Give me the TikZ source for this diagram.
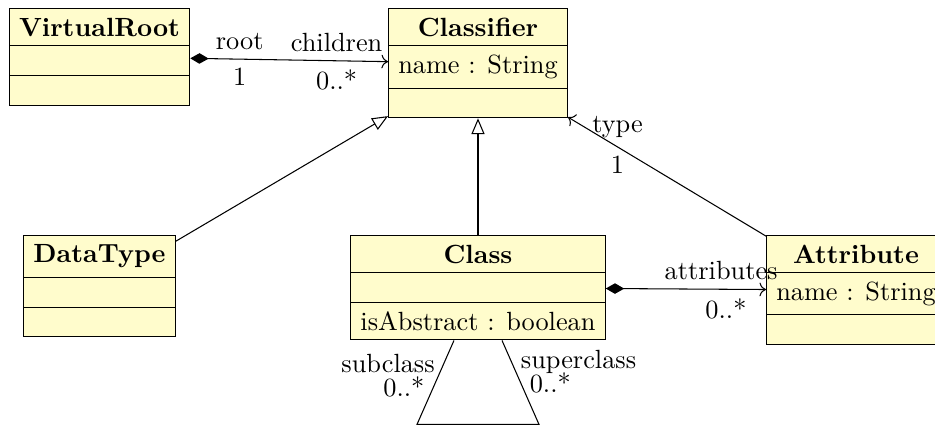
\documentclass[tikz,border=0pt]{standalone}
\usepackage{tikz}
\usetikzlibrary{shapes.multipart,arrows.meta,calc}

\begin{document}
\begin{tikzpicture}[
    x=0.38pt, y=-0.38pt,
    umlclass/.style={rectangle split, rectangle split parts=3, draw, fill=yellow!20, inner xsep=3.7pt, inner ysep=3.3pt},
    compose/.style={arrows={Diamond[length=7pt,width=4pt]->}},
    inherit/.style={arrows={-Triangle[open,length=6pt,width=5pt]}},
    navig/.style={->}
]

% Frame of the picture
\useasboundingbox (0,0) rectangle (935,425);
\clip (0,0) rectangle (935,425);

% Classes
\node[umlclass, anchor=north] (vroot) at (99.5,8) {\textbf{VirtualRoot}\nodepart{second}\nodepart{third}};
\node[umlclass, anchor=north] (classifier) at (478,8) {\textbf{Classifier}\nodepart{second}name : String\nodepart{third}};
\node[umlclass, anchor=north] (datatype) at (99.5,235) {\textbf{DataType}\nodepart{second}\nodepart{third}};
\node[umlclass, anchor=north] (class) at (478,235) {\textbf{Class}\nodepart{second}\nodepart{third}isAbstract : boolean};
\node[umlclass, anchor=north] (attribute) at (856,235) {\textbf{Attribute}\nodepart{second}name : String\nodepart{third}};

% Root composition
\draw[compose] (vroot) -- node[pos=0.25, above] (rootrole) {root} node[pos=0.25, below] (rootmult) {1}
    node[pos=0.74, above] (childrole) {children} node[pos=0.74, below] (childmult) {0..*} (classifier);

% Generalisations
\draw[inherit] (datatype) -- (classifier);
\draw[inherit] (class) -- (classifier);

% Type of an attribute
\draw[navig] (attribute) -- node[pos=0.75, above] (typerole) {type} node[pos=0.75, below] (typemult) {1} (classifier);

% Attributes of a class
\draw[compose] (class) -- node[pos=0.72, above] (attrrole) {attributes} node[pos=0.75, below] (attrmult) {0..*} (attribute);

% Sub- and superclasses
\draw ($(class.south)+(-24,0)$) -- node[pos=0.27, left] (subrole) {subclass} node[pos=0.55, left] (submult) {0..*} ++(-37,84)
    -- ++(122,0) -- node[pos=0.5, right] (supmult) {0..*} node[pos=0.74, right] (suprole) {superclass} ($(class.south)+(24,0)$);

\end{tikzpicture}
\end{document}
